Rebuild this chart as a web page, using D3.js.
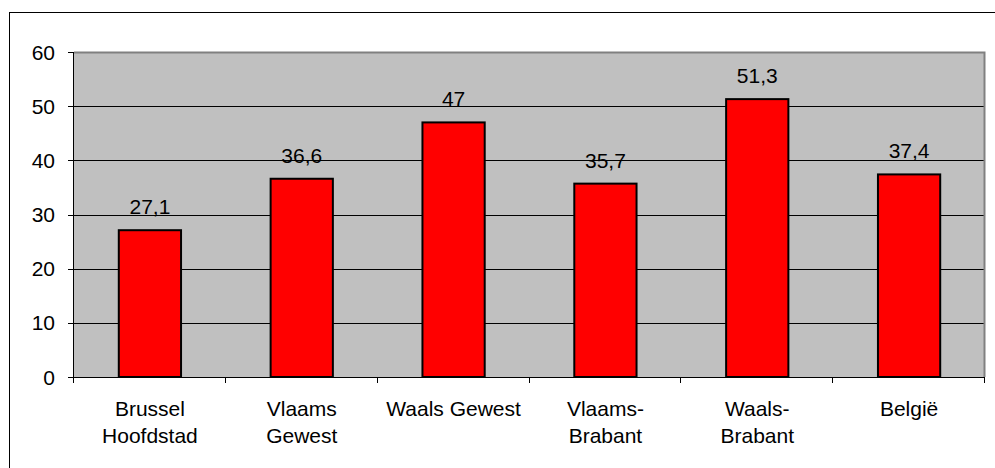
<!DOCTYPE html>
<html>
<head>
<meta charset="utf-8">
<script src="https://cdn.jsdelivr.net/npm/d3@7"></script>
<style>
  body { margin: 0; background: #fff; }
  text { font-family: "Liberation Sans", Arial, sans-serif; fill: #000; }
</style>
</head>
<body>
<div id="chart"></div>
<script>
// Data
const categories = [["Brussel", "Hoofdstad"], ["Vlaams", "Gewest"], ["Waals Gewest"], ["Vlaams-", "Brabant"], ["Waals-", "Brabant"], ["België"]];
const values = [27.1, 36.6, 47, 35.7, 51.3, 37.4];
const yTicks = [0, 10, 20, 30, 40, 50, 60];

const width = 995, height = 468;
const plot = { left: 74, top: 52, right: 985, bottom: 377 };
const fontSize = '21px';

const svg = d3.select('#chart').append('svg')
    .attr('width', width)
    .attr('height', height);

// Outer frame
svg.append('rect')
    .attr('x', 9.5).attr('y', 12.5)
    .attr('width', 1000).attr('height', 500)
    .attr('fill', 'none').attr('stroke', '#000').attr('stroke-width', 1);

const x = d3.scaleBand()
    .domain(d3.range(categories.length))
    .range([plot.left, plot.right])
    .paddingInner(0.59).paddingOuter(0.295);

const y = d3.scaleLinear().domain([0, 60]).range([plot.bottom, plot.top]);

// Plot background
svg.append('rect')
    .attr('x', plot.left).attr('y', plot.top)
    .attr('width', plot.right - plot.left).attr('height', plot.bottom - plot.top)
    .attr('fill', '#c0c0c0');

// Gridlines
svg.append('g').selectAll('line')
    .data(yTicks.filter(d => d > 0 && d < 60))
    .enter().append('line')
    .attr('x1', plot.left).attr('x2', plot.right)
    .attr('y1', d => Math.round(y(d)) + 0.5).attr('y2', d => Math.round(y(d)) + 0.5)
    .attr('stroke', '#000').attr('stroke-width', 1);

// Plot border (top + right gray)
svg.append('path')
    .attr('d', `M${plot.left},${plot.top + 0.5}H${plot.right - 0.5}V${plot.bottom}`)
    .attr('fill', 'none').attr('stroke', '#808080').attr('stroke-width', 2);

// Bars
svg.append('g').selectAll('rect')
    .data(values)
    .enter().append('rect')
    .attr('x', (d, i) => x(i))
    .attr('y', d => y(d))
    .attr('width', x.bandwidth())
    .attr('height', d => y(0) - y(d))
    .attr('fill', '#ff0000')
    .attr('stroke', '#000').attr('stroke-width', 2);

// Value labels
svg.append('g').selectAll('text')
    .data(values)
    .enter().append('text')
    .attr('x', (d, i) => x(i) + x.bandwidth() / 2)
    .attr('y', d => y(d) - 16)
    .attr('text-anchor', 'middle')
    .attr('font-size', fontSize)
    .text(d => String(d).replace('.', ','));

// Y axis
const yAxis = svg.append('g');
yAxis.append('line')
    .attr('x1', plot.left - 0.5).attr('x2', plot.left - 0.5)
    .attr('y1', plot.top).attr('y2', plot.bottom)
    .attr('stroke', '#000');
yAxis.selectAll('line.tick')
    .data(yTicks)
    .enter().append('line').attr('class', 'tick')
    .attr('x1', plot.left - 6).attr('x2', plot.left)
    .attr('y1', d => Math.round(y(d)) + 0.5).attr('y2', d => Math.round(y(d)) + 0.5)
    .attr('stroke', '#000');
yAxis.selectAll('text')
    .data(yTicks)
    .enter().append('text')
    .attr('x', plot.left - 19)
    .attr('y', d => y(d) + 7.5)
    .attr('text-anchor', 'end')
    .attr('font-size', fontSize)
    .text(d => d);

// X axis
const step = x.step();
const xAxis = svg.append('g');
xAxis.append('line')
    .attr('x1', plot.left - 6).attr('x2', plot.right)
    .attr('y1', plot.bottom + 0.5).attr('y2', plot.bottom + 0.5)
    .attr('stroke', '#000');
xAxis.selectAll('line.tick')
    .data(d3.range(categories.length + 1))
    .enter().append('line').attr('class', 'tick')
    .attr('x1', i => Math.round(plot.left + i * step) - 0.5)
    .attr('x2', i => Math.round(plot.left + i * step) - 0.5)
    .attr('y1', plot.bottom).attr('y2', plot.bottom + 6)
    .attr('stroke', '#000');

const labels = xAxis.selectAll('text')
    .data(categories)
    .enter().append('text')
    .attr('text-anchor', 'middle')
    .attr('font-size', fontSize);
labels.each(function(lines, i) {
    const cx = x(i) + x.bandwidth() / 2;
    lines.forEach((line, j) => {
        d3.select(this).append('tspan')
            .attr('x', cx)
            .attr('y', 416 + j * 27)
            .text(line);
    });
});
</script>
</body>
</html>
